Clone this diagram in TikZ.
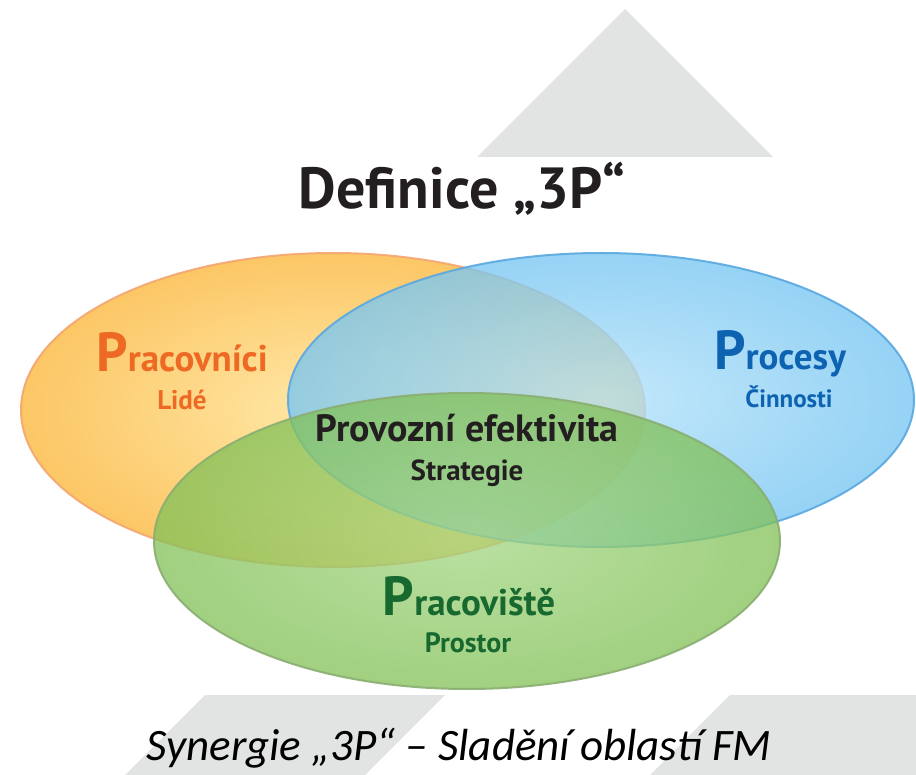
\documentclass[tikz,border=0pt]{standalone}
\usepackage{fontspec}
\setmainfont{PT Sans}
\newfontfamily\captionfont{Carlito}
\usetikzlibrary{positioning}

\definecolor{greyshape}{HTML}{E2E3E3}
\definecolor{orangetext}{HTML}{EE6A24}
\definecolor{bluetext}{HTML}{0E62B2}
\definecolor{greentext}{HTML}{17692F}
\definecolor{darktext}{HTML}{231F20}

\begin{document}
\begin{tikzpicture}[x=1pt, y=-1pt,
                        every node/.style={inner sep=0pt, anchor=base, align=center},
                        setshape/.style={line width=2pt, draw opacity=0.9},
                        bigp/.style={font=\bfseries\fontsize{37}{37}\selectfont},
                        subtext/.style={font=\bfseries\fontsize{27}{27}\selectfont}]

        \useasboundingbox (0,0) rectangle (916,775);

        % Grey background shapes
        \fill[greyshape] (477,157) -- (625,9) -- (773,157) -- cycle;
        \fill[greyshape] (205,695) -- (445,695) -- (365,775) -- (125,775) -- cycle;
        \fill[greyshape] (730,695) -- (916,695) -- (916,775) -- (650,775) -- cycle;

        % Title
        \node[font=\bfseries\fontsize{58}{58}\selectfont, text=darktext] (title) at (462,209) {Definice „3P“};

        % The three sets
        \draw[setshape, fill opacity=0.92, draw={rgb,255:red,244;green,166;blue,112}, inner color={rgb,255:red,255;green,230;blue,160}, outer color={rgb,255:red,252;green,194;blue,88}]
            (333,410) ellipse [x radius=312pt, y radius=157pt];
        \draw[setshape, fill opacity=0.78, draw={rgb,255:red,90;green,168;blue,224}, inner color={rgb,255:red,178;green,225;blue,249}, outer color={rgb,255:red,120;green,198;blue,242}]
            (601,400) ellipse [x radius=313pt, y radius=147pt];
        \draw[setshape, fill opacity=0.76, draw={rgb,255:red,138;green,174;blue,114}, inner color={rgb,255:red,164;green,214;blue,130}, outer color={rgb,255:red,130;green,193;blue,88}]
            (467,541) ellipse [x radius=313pt, y radius=148pt];

        % People
        \node[bigp, text=orangetext] (people) at (182,372) {{\fontsize{55}{55}\selectfont P}racovníci};
        \node[subtext, text=orangetext] (peoplesub) at (182,410) {Lidé};

        % Processes
        \node[bigp, text=bluetext] (process) at (780,370) {{\fontsize{55}{55}\selectfont P}rocesy};
        \node[subtext, text=bluetext, font=\bfseries\fontsize{25}{25}\selectfont] (processsub) at (789,408) {Činnosti};

        % Middle
        \node[font=\bfseries\fontsize{38}{38}\selectfont, text=darktext] (middle) at (467,442) {Provozní efektivita};
        \node[subtext, text=darktext, font=\bfseries\fontsize{29}{29}\selectfont] (middlesub) at (467,480) {Strategie};

        % Place
        \node[bigp, text=greentext] (place) at (469,615) {{\fontsize{55}{55}\selectfont P}racoviště};
        \node[subtext, text=greentext, font=\bfseries\fontsize{28}{28}\selectfont] (placesub) at (468,652) {Prostor};

        % Caption
        \node[font=\captionfont\itshape\fontsize{45}{45}\selectfont] (caption) at (459,760) {Synergie „3P“ – Sladění oblastí FM};

    \end{tikzpicture}
\end{document}
